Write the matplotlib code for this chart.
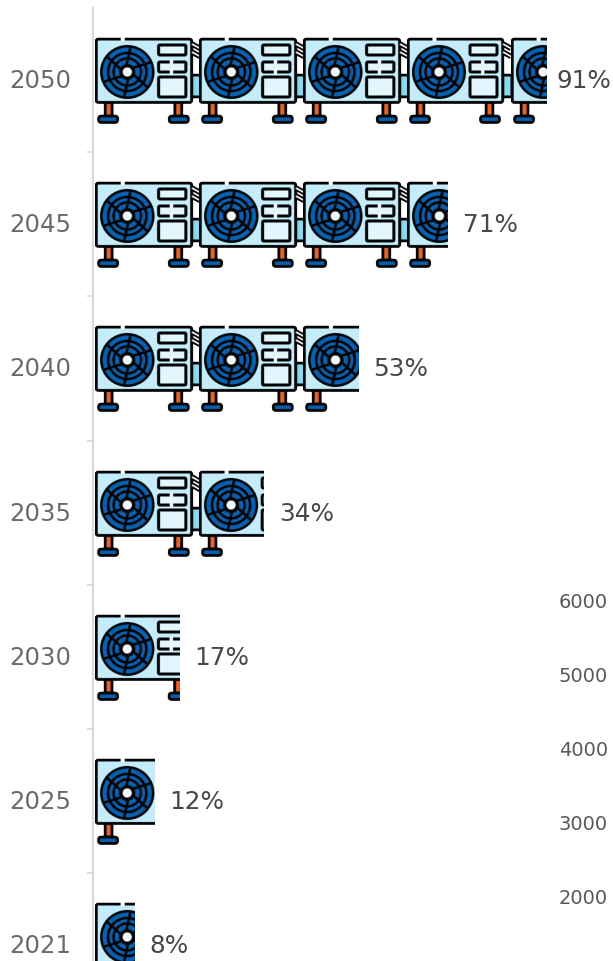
import numpy as np
import matplotlib
matplotlib.use("Agg")
import matplotlib.pyplot as plt
from matplotlib.figure import Figure
from matplotlib.backends.backend_agg import FigureCanvasAgg
from matplotlib.patches import Circle, FancyBboxPatch, Rectangle
from matplotlib.transforms import ScaledTranslation

years = ["2021", "2025", "2030", "2035", "2040", "2045", "2050"]
shares = [8, 12, 17, 34, 53, 71, 91]
right_ticks = [2000, 3000, 4000, 5000, 6000]

W, H = 613, 961
BLACK = "#050505"
BLUE = "#0a5fae"
BODY = "#c4ecfb"
PANEL = "#e3f6fd"
CYAN = "#8ad8ee"
LEG = "#e8622c"
TILE_W, TILE_H = 104, 90
SS = 4
LW = 3.0 * SS * 0.72


def rbox(a, x0, y0, x1, y1, fc, lw=LW, r=2.0):
    a.add_patch(FancyBboxPatch((x0, y0), x1 - x0, y1 - y0,
                               boxstyle=f"round,pad=0,rounding_size={r}",
                               fc=fc, ec=BLACK, lw=lw))


def make_tile():
    f = Figure(figsize=(TILE_W * SS / 100, TILE_H * SS / 100), dpi=100)
    FigureCanvasAgg(f)
    f.patch.set_alpha(0)
    a = f.add_axes([0, 0, 1, 1])
    a.set_xlim(0, TILE_W)
    a.set_ylim(TILE_H, 0)
    a.axis("off")
    # pipes and side box
    rbox(a, 94, 40, 105, 62, CYAN, r=1)
    for dy in (9, 17):
        a.plot([96, 105], [dy, dy + 5], color=BLACK, lw=LW * 1.9, solid_capstyle="butt")
        a.plot([96, 105], [dy, dy + 5], color="white", lw=LW * 0.55, solid_capstyle="butt")
    # legs and feet
    for lx, fx0, fx1 in ((10, 3.5, 22.5), (79, 73.5, 92.5)):
        a.add_patch(Rectangle((lx, 66), 7, 15, fc=LEG, ec=BLACK, lw=LW))
        rbox(a, fx0, 81, fx1, 87.5, BLUE, r=3)
    # body
    rbox(a, 1.2, 4, 95.8, 67.5, BODY, r=2.5)
    a.add_patch(Rectangle((25.5, 1), 4, 5, fc="white", ec="none"))
    # fan
    cx, cy = 32, 37
    a.add_patch(Circle((cx, cy), 27, fc=BLACK, ec="none"))
    a.add_patch(Circle((cx, cy), 24.5, fc=BLUE, ec="none"))
    for r in (19, 13.5):
        a.add_patch(Circle((cx, cy), r, fc="none", ec=BLACK, lw=LW * 0.85))
    for k in range(6):
        t0 = np.radians(k * 60 + 20)
        t1 = t0 + 0.3
        a.plot([cx + 6 * np.cos(t0), cx + 25 * np.cos(t1)],
               [cy + 6 * np.sin(t0), cy + 25 * np.sin(t1)],
               color=BLACK, lw=LW * 0.85)
    a.add_patch(Circle((cx, cy), 8, fc=BLACK, ec="none"))
    a.add_patch(Circle((cx, cy), 4.6, fc="#f3fcff", ec="none"))
    # panels
    rbox(a, 63, 10, 90, 20, PANEL, r=1.5)
    rbox(a, 63, 27, 90, 37, PANEL, r=1.5)
    a.add_patch(Rectangle((74, 24), 3.5, 16, fc=PANEL, ec="none"))
    rbox(a, 63, 42, 90, 62, PANEL, r=1.5)
    f.canvas.draw()
    return np.asarray(f.canvas.buffer_rgba()).copy()


tile = make_tile()

fig = plt.figure(figsize=(W / 100, H / 100), dpi=100)
PX_PER_PCT = 4.965
ROW = 144.2
AX_L, ZERO_X, TOP, C_TOP = 92.5, 94.5, 8.0, 80.0

ax = fig.add_axes([AX_L / W, 0, 1 - AX_L / W, 1 - TOP / H])
n = len(years)
xlim = ((AX_L - ZERO_X) / PX_PER_PCT, (W - ZERO_X) / PX_PER_PCT)
ylim = ((n - 1) - (H - C_TOP) / ROW, (n - 1) + (C_TOP - TOP) / ROW)
ax.patch.set_alpha(0)
for s in ("top", "right", "bottom"):
    ax.spines[s].set_visible(False)
ax.spines["left"].set_color("#d9d9d9")
ax.spines["left"].set_linewidth(1.6)
ax.set_xticks([])
ax.set_yticks(np.arange(n))
ax.set_yticklabels(years, fontsize=17.6, color="#6a6a6a")
ax.tick_params(axis="y", length=0, pad=15)
ax.set_yticks(np.arange(n + 1) - 0.5, minor=True)
ax.tick_params(axis="y", which="minor", length=4.5, width=1.2, color="#d9d9d9")
for lab in ax.get_yticklabels():
    lab.set_transform(lab.get_transform() + ScaledTranslation(0, 1.5 / 100, fig.dpi_scale_trans))

tile_w = TILE_W / PX_PER_PCT
tile_h = TILE_H / ROW
for i, v in enumerate(shares):
    k = 0
    while k * tile_w < v:
        im = ax.imshow(tile, extent=[k * tile_w, (k + 1) * tile_w, i - tile_h / 2, i + tile_h / 2],
                       aspect="auto", interpolation="antialiased", zorder=2)
        im.set_clip_path(Rectangle((0, i - tile_h / 2), v, tile_h, transform=ax.transData))
        k += 1
    pad = 10 if v > 85 else 15.5
    ax.annotate(f"{v}%", (v, i), xytext=(pad, -1), textcoords="offset pixels",
                ha="left", va="center", fontsize=17.8, color="#474747", clip_on=False)
ax.set_xlim(*xlim)
ax.set_ylim(*ylim)

# stray secondary value axis labels at the lower right
PX_PER_UNIT = 74 / 1000
ax2 = fig.add_axes([0, 0, 1, 1], frameon=False)
ax2.set_xticks([])
ax2.yaxis.tick_right()
ax2.set_ylim(2000 - (H - 896) / PX_PER_UNIT, 2000 + 896 / PX_PER_UNIT)
ax2.set_yticks(right_ticks)
ax2.set_yticklabels([str(t) for t in right_ticks], fontsize=14, color="#585858", ha="right")
ax2.tick_params(axis="y", length=0, pad=-3.6)

fig.savefig("out.png", dpi=100)
